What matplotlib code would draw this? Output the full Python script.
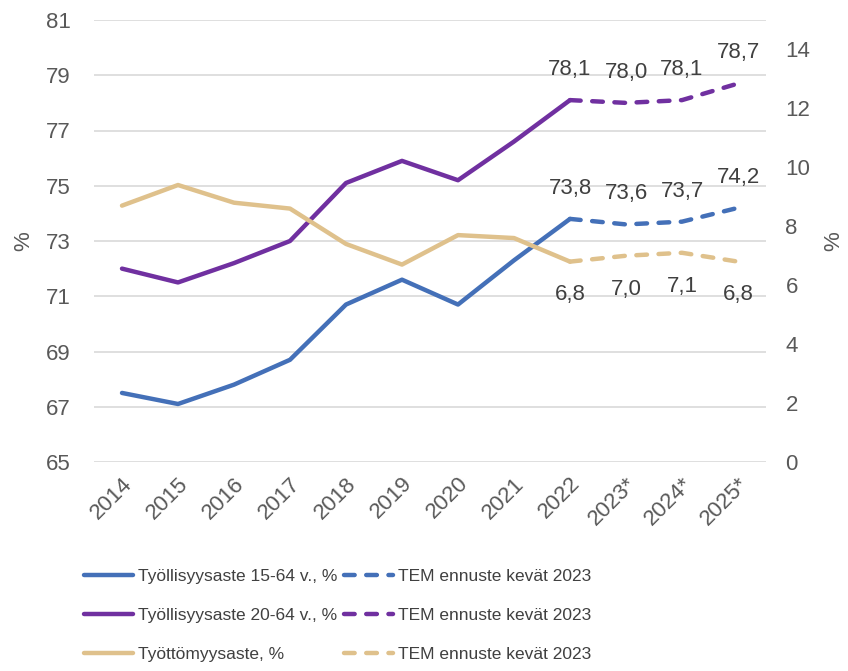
import numpy as np
import matplotlib.pyplot as plt
from matplotlib import font_manager

years = ['2014', '2015', '2016', '2017', '2018', '2019', '2020', '2021', '2022', '2023*', '2024*', '2025*']

# toteutunut 2014-2022
emp_15_64 = [67.5, 67.1, 67.8, 68.7, 70.7, 71.6, 70.7, 72.3, 73.8]
emp_20_64 = [72.0, 71.5, 72.2, 73.0, 75.1, 75.9, 75.2, 76.6, 78.1]
unemp = [8.7, 9.4, 8.8, 8.6, 7.4, 6.7, 7.7, 7.6, 6.8]

# TEM ennuste kevät 2023 (2022-2025)
fc_15_64 = [73.8, 73.6, 73.7, 74.2]
fc_20_64 = [78.1, 78.0, 78.1, 78.7]
fc_unemp = [6.8, 7.0, 7.1, 6.8]

c_blue = '#4470b8'
c_purple = '#7030a0'
c_tan = '#dfc18c'
txt = '#404040'
tick_c = '#595959'

plt.rcParams['font.family'] = ['Liberation Sans', 'DejaVu Sans']

fig = plt.figure(figsize=(8.48, 6.71), dpi=100)
ax = fig.add_axes([94/848, 1 - 462/671, 672/848, 442/671])
ax2 = ax.twinx()

x = np.arange(len(years))
xh = x[:9]
xf = x[8:]
lw = 3.2
dash = (0, (2.4, 2.6))

l1, = ax.plot(xh, emp_15_64, color=c_blue, lw=lw, solid_capstyle='round')
l2, = ax.plot(xh, emp_20_64, color=c_purple, lw=lw, solid_capstyle='round')
l3, = ax2.plot(xh, unemp, color=c_tan, lw=lw, solid_capstyle='round')
d1, = ax.plot(xf, fc_15_64, color=c_blue, lw=lw, ls=dash, dash_capstyle='round')
d2, = ax.plot(xf, fc_20_64, color=c_purple, lw=lw, ls=dash, dash_capstyle='round')
d3, = ax2.plot(xf, fc_unemp, color=c_tan, lw=lw, ls=dash, dash_capstyle='round')

# arvot
for xi, v in zip(xf, fc_20_64):
    ax.annotate(f'{v:.1f}'.replace('.', ','), (xi, v), xytext=(0, 22), textcoords='offset points',
                ha='center', va='center', fontsize=16, color=txt)
for xi, v in zip(xf, fc_15_64):
    ax.annotate(f'{v:.1f}'.replace('.', ','), (xi, v), xytext=(0, 22), textcoords='offset points',
                ha='center', va='center', fontsize=16, color=txt)
for xi, v in zip(xf, fc_unemp):
    ax2.annotate(f'{v:.1f}'.replace('.', ','), (xi, v), xytext=(0, -24), textcoords='offset points',
                 ha='center', va='center', fontsize=16, color=txt)

ax.set_xlim(-0.5, len(years) - 0.5)
ax.set_ylim(65, 81)
ax.set_yticks(np.arange(65, 82, 2))
ax2.set_ylim(0, 15)
ax2.set_yticks(np.arange(0, 15, 2))

ax.set_xticks(x)
ax.set_xticklabels(years, rotation=45, ha='right', rotation_mode='anchor')

ax.grid(axis='y', color='#d9d9d9', lw=1.2)
ax.set_axisbelow(True)
for a in (ax, ax2):
    for s in a.spines.values():
        s.set_visible(False)
    a.tick_params(length=0, labelsize=16, colors=tick_c)
ax.tick_params(axis='y', pad=17)
ax2.tick_params(axis='y', pad=14)
ax.tick_params(axis='x', pad=8)

ax.set_ylabel('%', fontsize=16, color=tick_c, labelpad=8)
ax2.set_ylabel('%', fontsize=16, color=tick_c, labelpad=9)

leg_font = font_manager.FontProperties(family=['Liberation Sans Narrow', 'Liberation Sans'], size=12.5)
fig.legend([l1, l2, l3, d1, d2, d3],
           ['Työllisyysaste 15-64 v., %', 'Työllisyysaste 20-64 v., %', 'Työttömyysaste, %',
            'TEM ennuste kevät 2023', 'TEM ennuste kevät 2023', 'TEM ennuste kevät 2023'],
           ncol=2, loc='upper left', bbox_to_anchor=(0.091, 0.162), borderaxespad=0,
           frameon=False, prop=leg_font, handlelength=2.8, handletextpad=0.3,
           columnspacing=0.4, labelspacing=1.36, labelcolor=txt)

fig.savefig('out.png', dpi=100)
